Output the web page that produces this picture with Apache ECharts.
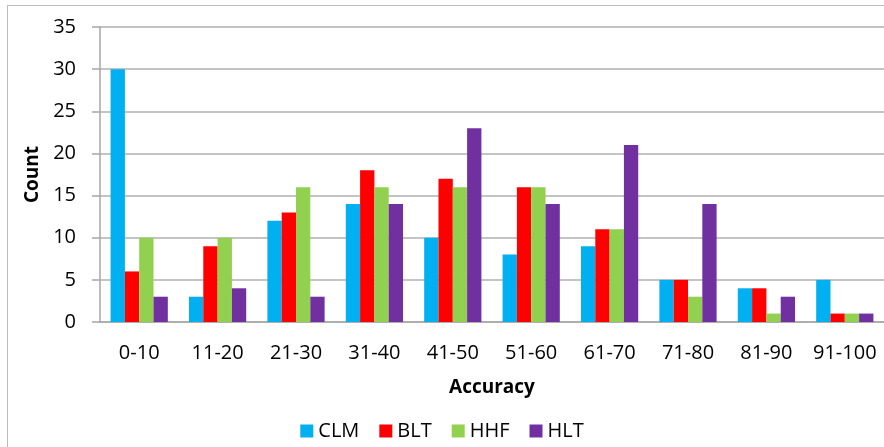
<!DOCTYPE html>
<html>
<head>
<meta charset="utf-8">
<script src="https://cdn.jsdelivr.net/npm/echarts@6/dist/echarts.min.js"></script>
<style>
    html, body { margin: 0; padding: 0; background: #fff; }
    #frame { position: absolute; left: 7px; top: 5px; width: 900px; height: 460px; border: 1.5px solid #bdbdbd; }
    #chart { position: absolute; left: 0; top: 0; width: 884px; height: 447px; }
</style>
</head>
<body>
<div id="frame"></div>
<div id="chart"></div>
<script>
    // 分组
    const categories = ['0-10', '11-20', '21-30', '31-40', '41-50', '51-60', '61-70', '71-80', '81-90', '91-100']
    const clm = [30, 3, 12, 14, 10, 8, 9, 5, 4, 5]
    const blt = [6, 9, 13, 18, 17, 16, 11, 5, 4, 1]
    const hhf = [10, 10, 16, 16, 16, 16, 11, 3, 1, 1]
    const hlt = [3, 4, 3, 14, 23, 14, 21, 14, 3, 1]
    const yTicks = [0, 5, 10, 15, 20, 25, 30, 35]

    const font = "'Open Sans', 'Liberation Sans', sans-serif"
    const chartInstance = echarts.init(document.getElementById('chart'))

    const makeSeries = (name, data, color) => ({
        name: name,
        type: 'bar',
        data: data,
        barGap: '0%',
        barCategoryGap: '27%',
        itemStyle: { color: color },
        emphasis: { disabled: true }
    })

    const option = {
        animation: false,
        textStyle: { fontFamily: font },
        grid: { left: 100, right: 0, top: 27, bottom: 125 },
        legend: {
            bottom: 1,
            left: 'center',
            itemWidth: 13,
            itemHeight: 13,
            itemGap: 20,
            icon: 'rect',
            textStyle: { fontSize: 20, color: '#000', fontFamily: font },
            data: ['CLM', 'BLT', 'HHF', 'HLT']
        },
        xAxis: {
            type: 'category',
            data: categories,
            name: 'Accuracy',
            nameLocation: 'middle',
            nameGap: 56,
            nameTextStyle: { fontSize: 19, fontWeight: 'bold', color: '#000' },
            axisLine: { lineStyle: { color: '#a6a6a6', width: 1.5 } },
            axisTick: { length: 8, lineStyle: { color: '#a6a6a6', width: 1.5 } },
            axisLabel: { interval: 0, fontSize: 20, color: '#000', margin: 21 }
        },
        yAxis: {
            type: 'value',
            min: yTicks[0],
            max: yTicks[yTicks.length - 1],
            interval: 5,
            name: 'Count',
            nameLocation: 'middle',
            nameGap: 54,
            nameRotate: 90,
            nameTextStyle: { fontSize: 19, fontWeight: 'bold', color: '#000' },
            axisLine: { show: true, lineStyle: { color: '#a6a6a6', width: 1.5 } },
            axisTick: { show: true, length: 8, lineStyle: { color: '#a6a6a6', width: 1.5 } },
            axisLabel: { fontSize: 20, color: '#000', margin: 24 },
            splitLine: { lineStyle: { color: '#b0b0b0', width: 1.5 } }
        },
        series: [
            makeSeries('CLM', clm, '#00b0f0'),
            makeSeries('BLT', blt, '#ff0000'),
            makeSeries('HHF', hhf, '#92d050'),
            makeSeries('HLT', hlt, '#7030a0')
        ]
    }
    chartInstance.setOption(option)
</script>
</body>
</html>
